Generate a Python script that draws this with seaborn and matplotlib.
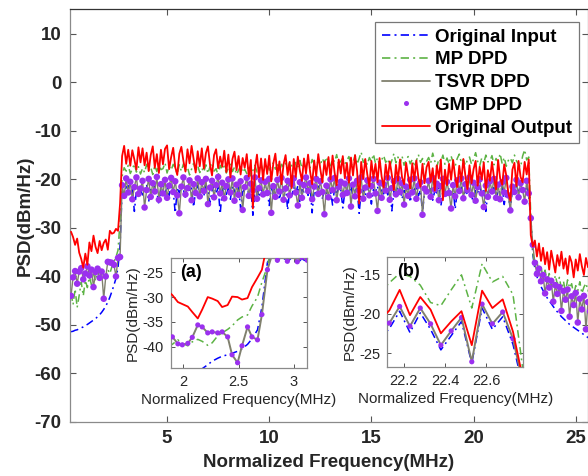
import numpy as np
import matplotlib
matplotlib.use("Agg")
import matplotlib.pyplot as plt
from matplotlib.lines import Line2D
import seaborn as sns

# ------------------------------------------------------------------ data
# main spectrum: frequency bins 0.3 ... 25.7 MHz, 0.1 MHz apart
freq_mhz = np.round(np.arange(0.3, 25.75, 0.1), 1)

input_psd = [
    -51.4, -51.3, -51.1, -51.0, -50.8, -50.6, -50.4, -50.1, -49.9, -49.6,
    -49.3, -49.0, -48.7, -48.3, -47.9, -47.4, -46.8, -46.1, -45.3, -44.3,
    -43.1, -41.8, -40.4, -38.2, -33.5,
    -22.3, -23.0, -21.6, -21.3, -22.9, -22.0, -26.6, -22.4, -21.5, -22.3,
    -23.2, -21.8, -21.1, -24.6, -22.1, -22.9, -21.4, -22.5, -25.2, -21.8,
    -21.3, -23.0, -21.5, -23.4, -21.0, -22.4, -26.9, -21.9, -22.8, -21.3,
    -22.2, -23.8, -21.4, -22.6, -21.8, -25.7, -22.2, -21.2, -23.3, -21.9,
    -23.4, -21.3, -22.1, -24.9, -22.4, -21.2, -23.0, -21.6, -27.1, -22.2,
    -21.4, -23.1, -21.9, -24.1, -21.2, -22.4, -23.3, -21.6, -26.0, -22.6,
    -22.0, -21.3, -23.2, -21.8, -27.4, -22.5, -21.5, -23.7, -22.0, -22.9,
    -21.3, -22.3, -25.4, -21.7, -23.0, -21.2, -22.4, -24.2, -21.9, -22.8,
    -21.4, -26.3, -22.2, -23.4, -21.6, -22.8, -21.3, -24.8, -22.1, -22.6,
    -21.8, -23.3, -21.4, -26.9, -22.3, -23.0, -21.4, -22.0, -23.9, -22.2,
    -22.9, -21.2, -22.4, -25.3, -21.7, -23.2, -21.4, -22.0, -25.9, -22.6,
    -21.6, -23.1, -21.3, -23.8, -22.3, -21.9, -27.0, -22.5, -22.0, -23.4,
    -21.5, -22.8, -25.1, -22.1, -22.6, -21.4, -24.3, -22.2, -23.0, -21.7,
    -23.2, -21.6, -26.5, -22.4, -23.0, -21.8, -21.5, -24.0, -22.3, -23.1,
    -21.9, -24.7, -22.6, -22.1, -21.4, -23.4, -22.2, -26.8, -22.7, -22.0,
    -23.0, -21.6, -24.3, -22.4, -22.8, -21.5, -25.5, -22.6, -22.1, -23.3,
    -21.8, -23.2, -22.2, -26.1, -22.5, -22.9, -21.6, -23.7, -22.3, -23.1,
    -22.0, -23.4, -24.9, -22.1, -22.7, -21.4, -23.1, -21.9, -26.6, -22.6,
    -22.3, -22.9, -21.7, -24.5, -22.2, -22.8, -21.5, -25.2, -22.4, -22.9,
    -26.4, -22.0, -22.6, -21.3, -22.5, -23.6, -21.9, -22.7, -21.2, -23.5,
    -28.0, -35.5, -38.4, -40.0, -41.2, -42.1, -42.9, -43.7, -44.4, -45.0,
    -45.6, -46.2, -46.8, -47.3, -47.8, -48.3, -48.7, -49.1, -49.5, -49.9,
    -50.2, -50.5, -50.8, -51.1, -51.4, -51.7, -52.0, -52.3, -52.6, -52.8,
]

mp_psd = [
    -43.5, -45.8, -42.6, -46.4, -43.9, -41.2, -44.0, -40.8, -42.3, -40.1,
    -41.7, -39.5, -40.9, -39.2, -40.4, -38.8, -39.6, -40.0, -38.6, -39.4,
    -38.0, -37.0, -36.0, -34.6, -28.5,
    -19.4, -17.6, -18.3, -17.1, -18.8, -17.9, -16.8, -18.5, -17.4, -18.9,
    -17.7, -18.6, -16.9, -18.2, -17.5, -19.0, -17.2, -18.4, -16.7, -18.0,
    -17.8, -16.6, -18.7, -17.3, -18.1, -16.9, -17.6, -18.9, -17.0, -18.3,
    -16.8, -18.2, -17.5, -19.1, -17.9, -16.7, -18.4, -17.2, -18.6, -17.7,
    -18.5, -17.0, -18.8, -17.4, -16.6, -18.3, -17.8, -19.2, -17.1, -18.0,
    -17.3, -18.7, -17.6, -16.9, -18.4, -17.5, -19.0, -18.1, -17.2, -18.6,
    -17.9, -18.8, -17.4, -19.3, -18.2, -17.1, -18.5, -17.8, -16.9, -18.3,
    -17.6, -16.8, -18.1, -17.3, -16.6, -17.9, -17.0, -18.4, -16.9, -17.5,
    -16.7, -17.8, -16.4, -17.2, -18.0, -16.5, -17.4, -16.1, -17.7, -16.9,
    -17.3, -16.2, -17.6, -15.9, -16.8, -17.5, -16.0, -17.1, -15.7, -16.6,
    -15.4, -16.9, -17.2, -15.8, -16.4, -14.9, -17.0, -16.3, -15.6, -16.8,
    -16.1, -15.3, -17.1, -16.6, -15.0, -16.9, -15.7, -14.4, -16.5, -15.9,
    -17.0, -15.5, -16.3, -14.8, -16.7, -15.6, -17.2, -16.0, -15.1, -16.5,
    -15.8, -17.3, -16.1, -14.7, -16.6, -15.4, -16.9, -15.2, -17.1, -16.0,
    -15.3, -16.8, -15.9, -17.4, -16.2, -14.9, -16.5, -15.7, -17.0, -16.3,
    -15.5, -16.7, -14.6, -16.2, -17.5, -15.8, -16.4, -15.0, -16.9, -15.6,
    -16.8, -15.2, -16.5, -17.3, -15.7, -14.8, -16.6, -15.9, -17.1, -16.0,
    -15.4, -16.9, -15.8, -14.5, -16.3, -17.2, -15.6, -16.7, -15.0, -16.4,
    -16.2, -15.1, -17.0, -15.7, -16.4, -14.7, -16.8, -15.5, -17.3, -16.1,
    -15.6, -16.6, -15.0, -16.2, -16.9, -17.5, -15.2, -13.9, -16.0, -15.4,
    -27.5, -35.2, -37.8, -36.9, -39.1, -38.0, -40.3, -38.7, -41.2, -39.4,
    -40.8, -42.1, -39.8, -41.6, -40.2, -42.7, -41.0, -43.3, -40.7, -42.4,
    -41.5, -43.8, -41.9, -42.9, -41.1, -43.5, -42.2, -41.4, -43.0, -42.0,
]

tsvr_psd = [
    -44.0, -40.2, -38.9, -41.5, -39.0, -38.3, -40.6, -39.4, -37.9, -39.8,
    -38.6, -42.2, -39.1, -38.4, -40.3, -39.0, -44.6, -40.0, -37.0, -37.1,
    -37.2, -37.6, -40.0, -36.2, -36.0,
    -21.2, -23.4, -19.8, -22.7, -20.5, -24.1, -21.6, -19.6, -23.0, -21.9,
    -20.3, -25.8, -22.2, -19.9, -23.6, -20.8, -22.5, -19.5, -24.2, -21.0,
    -22.9, -20.1, -23.8, -21.3, -19.7, -22.6, -20.4, -23.3, -27.0, -21.5,
    -19.6, -23.1, -21.8, -20.2, -24.3, -21.0, -22.8, -19.8, -23.5, -20.6,
    -22.4, -19.9, -25.1, -21.7, -20.3, -23.7, -21.2, -19.5, -22.9, -20.7,
    -23.9, -21.4, -20.0, -22.7, -19.8, -24.4, -21.1, -23.2, -20.4, -26.3,
    -21.6, -19.7, -23.4, -20.9, -22.3, -19.6, -24.0, -21.8, -20.2, -23.1,
    -20.5, -22.8, -19.9, -26.9, -21.4, -23.6, -20.1, -22.5, -19.7, -24.2,
    -21.9, -20.3, -23.3, -21.0, -19.8, -22.7, -25.4, -20.6, -23.8, -21.2,
    -19.6, -22.4, -20.8, -24.1, -21.5, -19.9, -23.0, -20.4, -22.6, -27.2,
    -21.3, -23.7, -20.0, -22.2, -19.7, -24.3, -21.6, -20.5, -23.2, -20.9,
    -22.8, -19.8, -25.6, -21.1, -23.5, -20.3, -22.4, -19.6, -24.0, -21.7,
    -20.2, -23.3, -21.4, -19.9, -22.9, -26.5, -20.7, -23.8, -21.0, -22.3,
    -19.7, -24.2, -21.8, -20.4, -23.1, -19.9, -22.6, -20.8, -25.2, -21.5,
    -23.4, -20.1, -22.7, -19.8, -24.0, -21.3, -20.6, -27.3, -21.9, -22.5,
    -20.3, -23.6, -19.7, -22.1, -20.9, -24.3, -21.4, -19.9, -23.0, -20.5,
    -22.8, -26.0, -21.2, -23.5, -20.2, -22.4, -19.8, -23.9, -21.0, -22.2,
    -19.6, -23.2, -20.7, -24.4, -21.6, -20.0, -22.9, -25.7, -21.3, -23.6,
    -20.4, -22.5, -19.9, -23.8, -21.1, -24.1, -20.6, -22.7, -19.7, -23.3,
    -26.4, -21.5, -22.6, -20.1, -23.7, -20.8, -22.2, -24.6, -20.3, -22.9,
    -28.0, -33.5, -37.2, -39.5, -38.4, -41.0, -39.7, -43.5, -40.6, -42.3,
    -40.9, -45.2, -41.8, -43.6, -42.2, -47.1, -43.0, -44.8, -42.7, -48.3,
    -44.1, -45.9, -43.4, -49.5, -44.6, -46.8, -44.0, -50.9, -45.3, -47.2,
]

# GMP markers sit on the TSVR trace at this scale
gmp_psd = list(tsvr_psd)

output_psd = [
    -30.8, -31.9, -33.5, -32.2, -35.1, -36.4, -38.2, -35.3, -37.6, -33.0,
    -34.8, -31.6, -33.9, -35.2, -32.7, -34.6, -33.1, -32.4, -34.5, -30.6,
    -31.2, -31.0, -30.2, -30.6, -25.0,
    -15.2, -13.1, -16.8, -13.9, -17.2, -14.0, -15.9, -18.0, -13.4, -16.5,
    -13.6, -17.1, -14.5, -18.3, -15.0, -13.2, -17.6, -14.8, -18.7, -13.9,
    -16.9, -13.7, -13.0, -17.9, -15.4, -13.5, -17.5, -19.1, -14.7, -13.3,
    -16.2, -18.4, -13.8, -16.7, -13.1, -15.9, -18.6, -14.2, -17.3, -13.6,
    -17.8, -14.6, -13.2, -16.9, -19.2, -15.0, -13.8, -17.7, -15.3, -17.4,
    -14.1, -18.5, -14.9, -19.6, -15.8, -14.3, -18.1, -15.2, -19.0, -15.6,
    -17.6, -14.8, -19.4, -16.0, -26.0, -17.8, -14.9, -19.6, -15.7, -20.1,
    -15.8, -18.9, -15.1, -20.4, -16.7, -14.7, -19.2, -16.3, -21.0, -16.9,
    -15.0, -19.1, -16.4, -21.8, -15.8, -19.5, -15.3, -18.2, -20.3, -15.7,
    -18.8, -14.9, -18.4, -21.0, -16.1, -19.3, -14.8, -17.9, -20.6, -16.3,
    -19.1, -15.4, -20.0, -15.1, -18.6, -21.2, -15.9, -18.8, -15.2, -19.8,
    -16.6, -20.7, -15.5, -19.2, -15.0, -18.3, -25.0, -16.4, -19.9, -15.8,
    -19.0, -21.5, -16.2, -19.7, -16.8, -20.6, -15.6, -19.4, -21.7, -16.9,
    -20.0, -16.3, -19.1, -22.2, -17.0, -20.3, -15.9, -19.6, -21.0, -16.6,
    -19.4, -21.9, -16.7, -20.2, -16.1, -19.7, -21.5, -16.8, -20.8, -17.5,
    -16.4, -20.5, -17.7, -22.3, -17.1, -19.8, -15.9, -24.3, -18.0, -21.2,
    -16.8, -20.1, -16.0, -19.5, -21.6, -17.2, -20.4, -15.8, -19.3, -22.0,
    -17.1, -20.8, -17.9, -16.2, -21.3, -17.4, -20.0, -16.5, -22.4, -18.1,
    -20.3, -16.4, -19.6, -22.1, -16.0, -19.8, -21.1, -16.9, -19.2, -22.8,
    -24.4, -18.0, -16.6, -21.4, -16.2, -19.5, -20.6, -16.4, -19.0, -15.9,
    -31.5, -33.8, -32.6, -35.9, -33.2, -36.8, -34.1, -37.5, -35.0, -38.6,
    -34.7, -36.9, -39.2, -35.6, -37.8, -34.9, -38.4, -36.3, -39.5, -35.8,
    -37.1, -40.2, -36.5, -38.8, -35.4, -37.9, -39.7, -36.2, -38.1, -36.8,
]

# inset (a): lower band edge, finer bins
inset_a_freq = [1.86, 1.90, 1.95, 1.99, 2.04, 2.08, 2.13, 2.17, 2.22, 2.26,
                2.31, 2.35, 2.40, 2.44, 2.49, 2.53, 2.58, 2.62, 2.67, 2.71,
                2.76, 2.80, 2.85, 2.89, 2.94, 2.98, 3.03, 3.07, 3.12, 3.16]
inset_a_input = [-47.0, -46.7, -46.4, -46.1, -45.7, -45.3, -44.9, -44.4, -43.6, -42.9,
                 -42.3, -41.9, -41.6, -41.3, -40.9, -40.4, -39.5, -38.4, -36.6, -32.0,
                 -23.0, -21.9, -22.9, -21.7, -23.0, -22.0, -23.2, -22.3, -22.9, -22.2]
inset_a_mp = [-39.8, -39.5, -38.6, -39.3, -39.8, -39.0, -38.5, -38.9, -39.7, -39.2,
              -37.8, -37.2, -36.5, -35.8, -34.6, -34.0, -33.6, -31.8, -30.0, -27.0,
              -23.8, -19.5, -17.8, -18.6, -17.4, -18.3, -17.6, -18.8, -17.3, -18.1]
inset_a_tsvr = [-37.4, -38.0, -39.4, -39.6, -39.3, -38.1, -35.6, -36.0, -37.2, -37.0,
                -37.2, -37.0, -38.0, -41.6, -43.2, -39.8, -36.0, -38.0, -38.6, -33.5,
                -24.5, -21.6, -22.6, -21.2, -22.8, -21.5, -22.9, -22.0, -22.6, -21.8]
inset_a_gmp = list(inset_a_tsvr)
inset_a_output = [-28.8, -29.6, -31.0, -31.4, -31.9, -33.0, -34.3, -32.5, -30.0, -30.3,
                  -30.8, -32.0, -31.6, -29.9, -30.0, -30.5, -30.2, -28.0, -26.1, -24.5,
                  -19.0, -15.5, -14.2, -16.0, -13.9, -15.2, -16.4, -14.6, -15.6, -14.3]

# inset (b): upper band edge, finer bins
inset_b_freq = [22.08, 22.13, 22.18, 22.23, 22.28, 22.33, 22.38, 22.43,
                22.48, 22.53, 22.58, 22.63, 22.68, 22.73, 22.78, 22.83]
inset_b_input = [-23.3, -21.9, -19.7, -22.4, -19.9, -22.0, -24.6, -22.8,
                 -21.0, -26.3, -19.3, -22.0, -20.4, -23.9, -29.5, -34.0]
inset_b_mp = [-17.5, -16.1, -14.9, -15.3, -16.4, -18.6, -19.0, -17.0,
              -15.1, -19.3, -13.7, -16.0, -15.3, -17.6, -27.5, -32.0]
inset_b_tsvr = [-22.8, -21.2, -19.1, -21.6, -19.3, -21.3, -24.0, -22.2,
                -20.5, -26.1, -18.8, -21.3, -19.8, -23.2, -29.0, -33.0]
inset_b_gmp = list(inset_b_tsvr)
inset_b_output = [-21.0, -19.6, -17.0, -20.2, -17.9, -19.5, -22.5, -21.0,
                  -19.7, -24.0, -17.1, -19.3, -18.2, -22.3, -28.5, -31.5]

series_labels = ["Original Input", "MP DPD", "TSVR DPD", "GMP DPD", "Original Output"]
main_xticks = [5, 10, 15, 20, 25]
main_yticks = [-70, -60, -50, -40, -30, -20, -10, 0, 10]
inset_a_xticks = [2, 2.5, 3]
inset_a_yticks = [-40, -35, -30, -25]
inset_b_xticks = [22.2, 22.4, 22.6]
inset_b_yticks = [-25, -20, -15]

# ------------------------------------------------------------------ style
sns.set_style("ticks")
plt.rcParams["font.family"] = ["Liberation Sans", "DejaVu Sans"]
plt.rcParams["axes.unicode_minus"] = False

C_IN = "#0000ff"
C_MP = "#5db345"
C_TSVR = "#80806e"
C_GMP = "#9b30ef"
C_OUT = "#ff0000"
DASHDOT = (0, (5, 2.5, 1.2, 2.5))
TXT = "#262626"


def draw_series(ax, x, s_in, s_mp, s_tsvr, s_gmp, s_out, lw=1.1, tlw=1.4, ms=13):
    sns.lineplot(x=x, y=s_in, ax=ax, color=C_IN, linestyle=DASHDOT, lw=lw, sort=False)
    sns.lineplot(x=x, y=s_mp, ax=ax, color=C_MP, linestyle=DASHDOT, lw=lw, sort=False)
    sns.lineplot(x=x, y=s_tsvr, ax=ax, color=C_TSVR, lw=tlw, sort=False)
    sns.scatterplot(x=x, y=s_gmp, ax=ax, color=C_GMP, s=ms, edgecolor="none",
                    linewidth=0, zorder=3)
    sns.lineplot(x=x, y=s_out, ax=ax, color=C_OUT, lw=lw + 0.2, sort=False, zorder=4)


W, H = 588, 476
fig = plt.figure(figsize=(W / 100, H / 100), dpi=100)

# main axes
ax = fig.add_axes([70 / W, (H - 422) / H, (588 - 70) / W, (422 - 9.5) / H])
draw_series(ax, freq_mhz, input_psd, mp_psd, tsvr_psd, gmp_psd, output_psd,
            tlw=1.0, ms=22)
ax.set_xlim(0.25, 25.6)
ax.set_ylim(-70, 15)
ax.set_xticks(main_xticks)
ax.set_yticks(main_yticks)
ax.tick_params(direction="in", length=4, width=0.8, top=True, right=True,
               labelsize=13.5, labelcolor=TXT, color="#555555", pad=6)
for lab in ax.get_xticklabels() + ax.get_yticklabels():
    lab.set_fontweight("bold")
for sp in ax.spines.values():
    sp.set_visible(True)
    sp.set_linewidth(0.9)
    sp.set_color("#8a8a8a")
ax.spines["top"].set_color("#333333")
ax.set_xlabel("Normalized Frequency(MHz)", fontsize=13.5, fontweight="bold",
              color=TXT, labelpad=5)
ax.set_ylabel("PSD(dBm/Hz)", fontsize=13.5, fontweight="bold", color=TXT, labelpad=1)

handles = [
    Line2D([], [], color=C_IN, linestyle=DASHDOT, lw=1.2),
    Line2D([], [], color=C_MP, linestyle=DASHDOT, lw=1.2),
    Line2D([], [], color=C_TSVR, lw=1.3),
    Line2D([], [], color=C_GMP, marker="o", markersize=3.6, linestyle="none",
           markeredgewidth=0),
    Line2D([], [], color=C_OUT, lw=1.3),
]
leg = ax.legend(handles, series_labels, loc="upper left",
                bbox_to_anchor=(375 / W, (H - 22) / H), bbox_transform=fig.transFigure,
                prop={"weight": "bold", "size": 13.5}, frameon=True, fancybox=False,
                framealpha=1, edgecolor="#777777", borderpad=0.35,
                labelspacing=0.3, handlelength=2.6, handletextpad=0.25,
                borderaxespad=0)
leg.get_frame().set_linewidth(0.9)
for t in leg.get_texts():
    t.set_color("black")
leg.set_zorder(10)


def style_inset(axi, xlim, ylim, xt, yt, tag):
    axi.set_facecolor("white")
    axi.set_xlim(*xlim)
    axi.set_ylim(*ylim)
    axi.set_xticks(xt)
    axi.set_yticks(yt)
    axi.set_xticklabels([f"{v:g}" for v in xt])
    axi.set_yticklabels([f"{v:g}" for v in yt])
    axi.tick_params(direction="in", length=3, width=0.7, top=True, right=True,
                    labelsize=10.5, labelcolor=TXT, color="#555555", pad=5)
    for sp in axi.spines.values():
        sp.set_visible(True)
        sp.set_linewidth(0.9)
        sp.set_color("#8a8a8a")
    axi.set_xlabel("Normalized Frequency(MHz)", fontsize=11, color=TXT, labelpad=3)
    axi.set_ylabel("PSD(dBm/Hz)", fontsize=11, color=TXT, labelpad=2)
    axi.text(0.07, 0.87, tag, transform=axi.transAxes, fontsize=13,
             fontweight="bold", color="black", va="center", ha="left")


# inset (a)
axa = fig.add_axes([170.7 / W, (H - 367.7) / H, 136 / W, 109.4 / H])
draw_series(axa, inset_a_freq, inset_a_input, inset_a_mp, inset_a_tsvr,
            inset_a_gmp, inset_a_output, lw=1.1, ms=14)
style_inset(axa, (1.885, 3.115), (-44.2, -22.2), inset_a_xticks, inset_a_yticks, "(a)")

# inset (b)
axb = fig.add_axes([387.3 / W, (H - 367.3) / H, 136 / W, 110.6 / H])
draw_series(axb, inset_b_freq, inset_b_input, inset_b_mp, inset_b_tsvr,
            inset_b_gmp, inset_b_output, lw=1.1, ms=14)
style_inset(axb, (22.12, 22.78), (-26.8, -12.8), inset_b_xticks, inset_b_yticks, "(b)")

fig.savefig("out.png", dpi=100)
